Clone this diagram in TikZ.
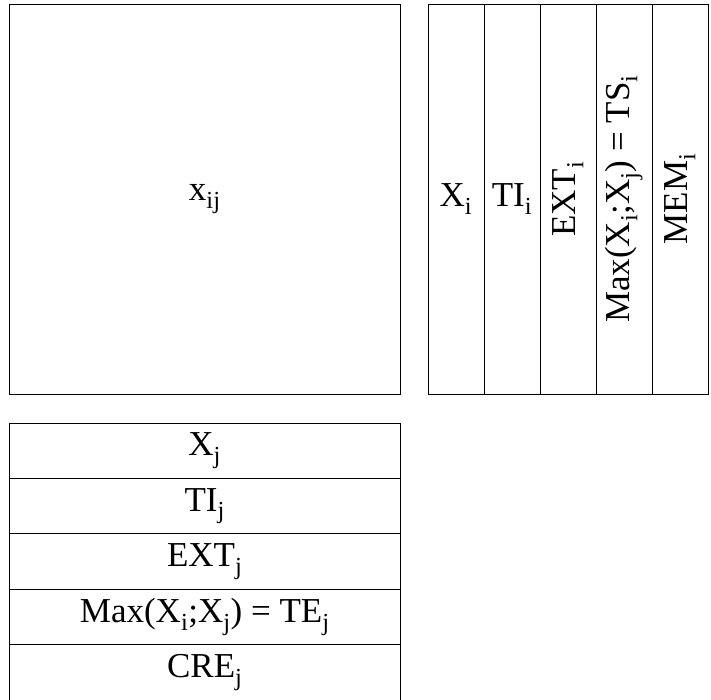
\documentclass[tikz,border=0pt]{standalone}
\usepackage{fontspec}
\setmainfont{Liberation Serif}
\usetikzlibrary{positioning}

\begin{document}
\begin{tikzpicture}[
  x=1pt, y=-1pt,
  node distance=0pt,
  every node/.style={draw, line width=1pt, inner sep=0pt, outer sep=0pt, align=center, font=\fontsize{35}{40}\selectfont},
  colbox/.style={minimum width=56pt, minimum height=390pt},
  rowbox/.style={minimum width=390.5pt, minimum height=55.4pt},
]
\useasboundingbox (0,0) rectangle (711,699);

\node (xij) [minimum width=390.5pt, minimum height=390pt, anchor=north west] at (9.5,4) {x\textsubscript{ij}};

\node (xi) [colbox, anchor=north west] at (428,4) {X\textsubscript{i}};
\node (tii) [colbox, right=of xi] {TI\textsubscript{i}};
\node (exti) [colbox, right=of tii] {\rotatebox{90}{EXT\textsubscript{i}}};
\node (tsi) [colbox, right=of exti] {\rotatebox{90}{Max(X\textsubscript{i};X\textsubscript{j}) = TS\textsubscript{i}}};
\node (memi) [colbox, right=of tsi] {\rotatebox{90}{MEM\textsubscript{i}}};

\node (xj) [rowbox, anchor=north west] at (9.5,423) {X\textsubscript{j}};
\node (tij) [rowbox, below=of xj] {TI\textsubscript{j}};
\node (extj) [rowbox, below=of tij] {EXT\textsubscript{j}};
\node (tej) [rowbox, below=of extj] {Max(X\textsubscript{i};X\textsubscript{j}) = TE\textsubscript{j}};
\node (crej) [rowbox, below=of tej] {CRE\textsubscript{j}};
\end{tikzpicture}
\end{document}
